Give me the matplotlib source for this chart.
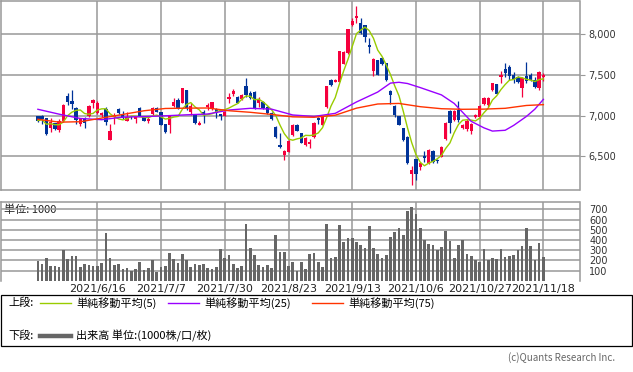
"""
Candlestick chart with 5/25/75-day moving averages and volume panel
(daily bars, 2021/5 - 2021/11), drawn to a 633x372 px image.
"""

import numpy as np
import pandas as pd
import matplotlib
matplotlib.use('Agg')
import matplotlib.pyplot as plt
from matplotlib.lines import Line2D
from matplotlib.patches import Rectangle

plt.rcParams['font.family'] = ['DejaVu Sans', 'Noto Sans CJK JP']
JP = ['Noto Sans CJK JP', 'DejaVu Sans']

# ---- data (one entry per trading day) ----
opens = [6990, 7000, 6967, 6852, 6905, 6823, 6938, 7237, 7176, 7098,
         6897, 6967, 6995, 7160, 7033, 7008, 7085, 6700, 6987, 7086,
         7008, 6938, 6990, 6955, 7094, 6995, 6940, 7020, 7090, 7041,
         6897, 6889, 7118, 7192, 7160, 7315, 7049, 7008, 6890, 7041,
         7102, 7077, 7082, 7020, 7000, 7201, 7266, 7233, 7205, 7364,
         7274, 7295, 7151, 7172, 7110, 7028, 6864, 6639, 6516, 6557,
         6762, 6885, 6782, 6639, 6651, 6733, 6967, 6885, 7102, 7438,
         7418, 7418, 7635, 7766, 8114, 8196, 8143, 8114, 7868, 7553,
         7684, 7713, 7643, 7303, 7118, 6996, 6844, 6742, 6283, 6463,
         6373, 6500, 6422, 6569, 6455, 6496, 6709, 7057, 6946, 7069,
         6844, 6832, 6815, 6987, 6987, 7143, 7131, 7315, 7389, 7471,
         7573, 7594, 7500, 7479, 7336, 7490, 7500, 7438, 7340, 7471]
highs = [7000, 7010, 6975, 6965, 6915, 6960, 7145, 7275, 7316, 7110,
         6975, 6980, 7130, 7205, 7180, 7040, 7105, 6897, 7028, 7090,
         7058, 7045, 7000, 7000, 7110, 7000, 6995, 7110, 7110, 7050,
         6900, 7004, 7213, 7213, 7340, 7320, 7151, 7010, 6940, 7065,
         7160, 7170, 7090, 7025, 7060, 7282, 7323, 7240, 7265, 7459,
         7300, 7300, 7233, 7180, 7120, 7040, 6870, 6791, 6575, 6700,
         6895, 6895, 6790, 6735, 6709, 6920, 6987, 6995, 7370, 7445,
         7450, 7800, 7795, 8070, 8196, 8348, 8196, 8120, 7959, 7705,
         7690, 7720, 7650, 7310, 7125, 7000, 6850, 6750, 6381, 6470,
         6420, 6560, 6590, 6575, 6470, 6630, 6920, 7065, 7070, 7184,
         6897, 6960, 6905, 7020, 7130, 7225, 7230, 7400, 7395, 7553,
         7643, 7623, 7541, 7490, 7470, 7655, 7530, 7470, 7550, 7530]
lows = [6925, 6900, 6760, 6800, 6820, 6800, 6925, 7125, 7086, 6900,
        6875, 6850, 6985, 7090, 7020, 6985, 6885, 6695, 6900, 7020,
        6960, 6935, 6960, 6905, 6990, 6935, 6905, 7000, 7040, 6880,
        6790, 6790, 7110, 7078, 7150, 7070, 7008, 6900, 6880, 6905,
        7070, 7070, 6970, 6950, 6990, 7151, 7241, 7150, 7195, 7233,
        7200, 7080, 7110, 7080, 7020, 6950, 6725, 6606, 6455, 6550,
        6755, 6805, 6660, 6630, 6598, 6725, 6897, 6880, 7095, 7370,
        7410, 7410, 7630, 7760, 8100, 8143, 8000, 7909, 7774, 7487,
        7495, 7625, 7430, 7143, 6980, 6880, 6690, 6400, 6147, 6208,
        6330, 6430, 6400, 6420, 6414, 6490, 6700, 6790, 6940, 6925,
        6830, 6815, 6770, 6970, 6975, 7135, 7102, 7305, 7260, 7397,
        7479, 7438, 7397, 7400, 7233, 7400, 7420, 7340, 7320, 7420]
closes = [6940, 6960, 6780, 6926, 6835, 6938, 7131, 7168, 7139, 6950,
          6958, 6913, 7123, 7195, 7155, 7030, 6920, 6815, 7008, 7028,
          6967, 6987, 6980, 7000, 6995, 6938, 6960, 7090, 7050, 6889,
          6799, 7004, 7172, 7085, 7336, 7090, 7118, 6905, 6905, 7008,
          7131, 7168, 7028, 6990, 7050, 7233, 7307, 7160, 7254, 7254,
          7213, 7090, 7201, 7090, 7028, 6955, 6733, 6610, 6569, 6692,
          6885, 6815, 6668, 6729, 6680, 6914, 6946, 6987, 7364, 7377,
          7438, 7795, 7787, 8065, 8164, 8229, 8012, 7971, 7848, 7696,
          7500, 7635, 7438, 7254, 7008, 6885, 6700, 6414, 6332, 6278,
          6414, 6480, 6578, 6434, 6440, 6619, 6914, 6914, 7061, 6946,
          6885, 6938, 6897, 7008, 7119, 7213, 7221, 7397, 7266, 7500,
          7528, 7487, 7438, 7418, 7459, 7430, 7438, 7350, 7541, 7500]
volumes = [195, 166, 221, 146, 146, 136, 302, 214, 244, 244,
           136, 166, 156, 146, 146, 175, 468, 221, 156, 166,
           117, 123, 100, 117, 185, 107, 126, 205, 90, 136,
           146, 273, 214, 175, 263, 205, 136, 166, 156, 166,
           126, 117, 136, 312, 224, 253, 166, 126, 146, 556,
           322, 253, 156, 136, 156, 126, 449, 280, 287, 146,
           185, 100, 185, 117, 263, 273, 185, 136, 556, 224,
           234, 546, 380, 420, 420, 380, 351, 322, 537, 322,
           263, 224, 253, 429, 478, 517, 449, 683, 722, 654,
           517, 400, 361, 351, 302, 332, 488, 390, 224, 351,
           400, 263, 244, 205, 185, 312, 205, 224, 214, 312,
           234, 244, 253, 302, 341, 517, 341, 205, 370, 234]

# 25 / 75 day averages (history before the window is not shown)
ma25_idx = [0, 5, 10, 15, 20, 25, 30, 35, 40, 45, 50, 55, 60, 65, 70, 75,
            80, 83, 85, 87, 90, 95, 98, 100, 102, 105, 107, 110, 112, 115, 117, 119]
ma25 = [7078, 7018, 6965, 6950, 6982, 6988, 6998, 7010, 7020, 7069, 7090, 7080,
        7008, 6990, 7028, 7168, 7290, 7400, 7410, 7395, 7345, 7255, 7150, 7040,
        6930, 6850, 6810, 6820, 6880, 6990, 7080, 7200]
ma75_idx = [0, 5, 10, 15, 20, 25, 30, 35, 40, 45, 50, 55, 60, 65, 70, 75,
            80, 85, 90, 95, 100, 105, 110, 115, 119]
ma75 = [6955, 6920, 6925, 6970, 7015, 7060, 7088, 7092, 7094, 7060, 7041, 7015,
        6985, 6980, 7005, 7092, 7143, 7150, 7110, 7085, 7078, 7080, 7090, 7125, 7135]

tick_idx = [14, 29, 44, 59, 74, 89, 104, 119]
tick_labels = ['2021/6/16', '2021/7/7', '2021/7/30', '2021/8/23',
               '2021/9/13', '2021/10/6', '2021/10/27', '2021/11/18']
price_ticks = [6500, 7000, 7500, 8000]
vol_ticks = [100, 200, 300, 400, 500, 600, 700]

legend_labels = ['単純移動平均(5)', '単純移動平均(25)', '単純移動平均(75)']

UP = '#f5003d'
DOWN = '#003399'
GRID = '#999999'
MA_COLORS = ['#99cc00', '#9900ff', '#ff3300']

W, H = 633, 372
fig = plt.figure(figsize=(W / 100, H / 100), dpi=100)
fig.patch.set_facecolor('white')


def fx(px):
    return px / W


def fy(py):
    return 1 - py / H


def px_axes(x0, y0, x1, y1):
    return fig.add_axes([fx(x0), fy(y1), (x1 - x0) / W, (y1 - y0) / H])


ax = px_axes(0.5, 0.7, 579.5, 190.3)
axv = px_axes(0.5, 201.7, 579.5, 280.9)

x = np.arange(len(closes))
o = np.array(opens)
c = np.array(closes)
colors = np.where(c >= o, UP, DOWN)

# ---- upper panel: candles + moving averages ----
ax.vlines(x, lows, highs, colors=colors, lw=0.9, zorder=3)
ax.bar(x, np.maximum(np.abs(c - o), 12), bottom=np.minimum(o, c),
       width=0.78, color=colors, lw=0, zorder=4)

ma5 = pd.Series(closes).rolling(5, min_periods=1).mean()
ax.plot(x, ma5, color=MA_COLORS[0], lw=1.0, zorder=5)
ax.plot(ma25_idx, ma25, color=MA_COLORS[1], lw=1.0, zorder=5)
ax.plot(ma75_idx, ma75, color=MA_COLORS[2], lw=1.0, zorder=5)

ax.set_xlim(-8.8, 127.5)
ax.set_ylim(6082, 8413)
ax.set_xticks(tick_idx)
ax.tick_params(axis='x', length=0, labelbottom=False)
ax.yaxis.tick_right()
ax.set_yticks(price_ticks)
ax.set_yticklabels([f'{v:,}' for v in price_ticks])
ax.tick_params(axis='y', length=3.6, width=0.8, color=GRID, pad=3,
               labelsize=7, labelcolor='#333333')
ax.grid(True, color=GRID, lw=1.1)
ax.set_axisbelow(True)
for s in ax.spines.values():
    s.set_color(GRID)
    s.set_linewidth(1.1)

# ---- lower panel: volume ----
axv.bar(x, volumes, width=0.63, color='#666666', lw=0, zorder=2)
axv.set_xlim(-8.8, 127.5)
axv.set_ylim(0, 774)
axv.yaxis.tick_right()
axv.set_yticks(vol_ticks)
axv.tick_params(axis='y', length=0, pad=7, labelsize=7, labelcolor='#333333')
axv.set_xticks(tick_idx)
axv.set_xticklabels(tick_labels)
axv.tick_params(axis='x', length=0, pad=2.5, labelsize=8, labelcolor='#222222')
axv.grid(True, color=GRID, lw=1.1)
axv.set_axisbelow(True)
for s in axv.spines.values():
    s.set_color(GRID)
    s.set_linewidth(1.1)
axv.spines['bottom'].set_visible(False)
axv.text(4 / 579, 0.905, '単位: 1000', transform=axv.transAxes, ha='left',
         va='center', fontsize=8, family=JP, color='#222222', zorder=0.3)

# ---- legend box ----
fig.add_artist(Rectangle((fx(0.5), fy(346)), fx(632) - fx(0.5), (346 - 295.3) / H,
                         fill=False, ec='black', lw=0.9, transform=fig.transFigure))
fig.text(fx(8), fy(303), '上段:', ha='left', va='center', fontsize=8, family=JP)
for x0, lab, col in zip([40, 168, 312], legend_labels, MA_COLORS):
    fig.add_artist(Line2D([fx(x0), fx(x0 + 31)], [fy(303), fy(303)], color=col,
                          lw=1.0, transform=fig.transFigure))
    fig.text(fx(x0 + 36), fy(303), lab, ha='left', va='center', fontsize=8, family=JP)

fig.text(fx(8), fy(336), '下段:', ha='left', va='center', fontsize=8, family=JP)
fig.add_artist(Line2D([fx(40), fx(71)], [fy(336), fy(336)], color='#666666',
                      lw=3.2, transform=fig.transFigure))
fig.text(fx(76), fy(336), '出来高 単位:(1000株/口/枚)', ha='left', va='center',
         fontsize=8, family=JP)

fig.text(fx(615), fy(358), '(c)Quants Research Inc.', ha='right', va='center',
         fontsize=7, family=JP, color='#666666')

fig.savefig('out.png', dpi=100)
